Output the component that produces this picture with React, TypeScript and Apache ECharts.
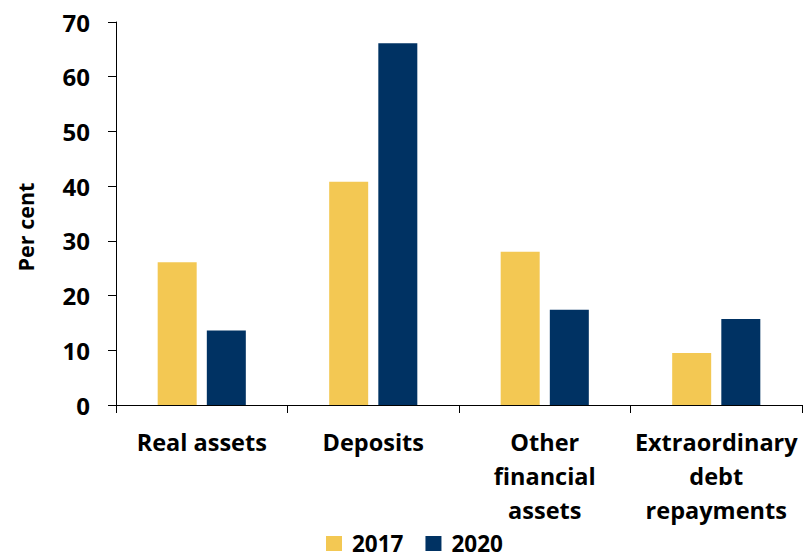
import React, { useEffect, useRef } from "react";
import * as echarts from "echarts";

const categories = ["Real assets", "Deposits", "Other\nfinancial\nassets", "Extraordinary\ndebt\nrepayments"];
const series2017 = [26.1, 40.8, 28.0, 9.5];
const series2020 = [13.6, 66.1, 17.4, 15.7];
const yTicks = [0, 10, 20, 30, 40, 50, 60, 70];
const yAxisTitle = "Per cent";

const FONT = "Open Sans";

export default function App() {
  const ref = useRef<HTMLDivElement>(null);
  useEffect(() => {
    document.body.style.margin = "0";
    const chart = echarts.init(ref.current!, null, { renderer: "svg" });
    chart.setOption({
      animation: false,
      textStyle: { fontFamily: FONT },
      grid: { left: 116, right: 7, top: 22, bottom: 154 },
      graphic: [
        {
          type: "text",
          x: 25,
          y: 227,
          rotation: Math.PI / 2,
          style: {
            text: yAxisTitle,
            fontSize: 21.5,
            fontWeight: "bold",
            fontFamily: FONT,
            fill: "#000",
            textAlign: "center",
            textVerticalAlign: "middle",
          },
        },
      ],
      legend: {
        top: 532,
        left: 326,
        padding: 0,
        itemWidth: 16,
        itemHeight: 15,
        itemGap: 22,
        icon: "rect",
        textStyle: {
          fontSize: 22.5,
          lineHeight: 22,
          padding: [0, 0, 0, 5],
          fontWeight: "bold",
          color: "#000",
          fontFamily: FONT,
        },
        data: ["2017", "2020"],
      },
      xAxis: {
        type: "category",
        data: categories,
        axisLine: { lineStyle: { color: "#000", width: 1 } },
        axisTick: { show: true, length: 8, lineStyle: { color: "#000" }, alignWithLabel: false },
        axisLabel: {
          interval: 0,
          margin: 20,
          fontSize: 23.5,
          fontWeight: "bold",
          color: "#000",
          lineHeight: 34,
          fontFamily: FONT,
        },
      },
      yAxis: {
        type: "value",
        min: yTicks[0],
        max: yTicks[yTicks.length - 1],
        interval: 10,
        axisLine: { show: true, lineStyle: { color: "#000", width: 1 } },
        axisTick: { show: true, length: 8, lineStyle: { color: "#000" } },
        splitLine: { show: false },
        axisLabel: { fontSize: 24, fontWeight: "bold", color: "#000", margin: 26, fontFamily: FONT },
      },
      series: [
        {
          name: "2017",
          type: "bar",
          data: series2017,
          barWidth: 39,
          barGap: "26%",
          itemStyle: { color: "#F3C853" },
        },
        {
          name: "2020",
          type: "bar",
          data: series2020,
          barWidth: 39,
          itemStyle: { color: "#003263" },
        },
      ],
    });
    return () => chart.dispose();
  }, []);
  return <div ref={ref} style={{ width: 809, height: 559 }} />;
}
